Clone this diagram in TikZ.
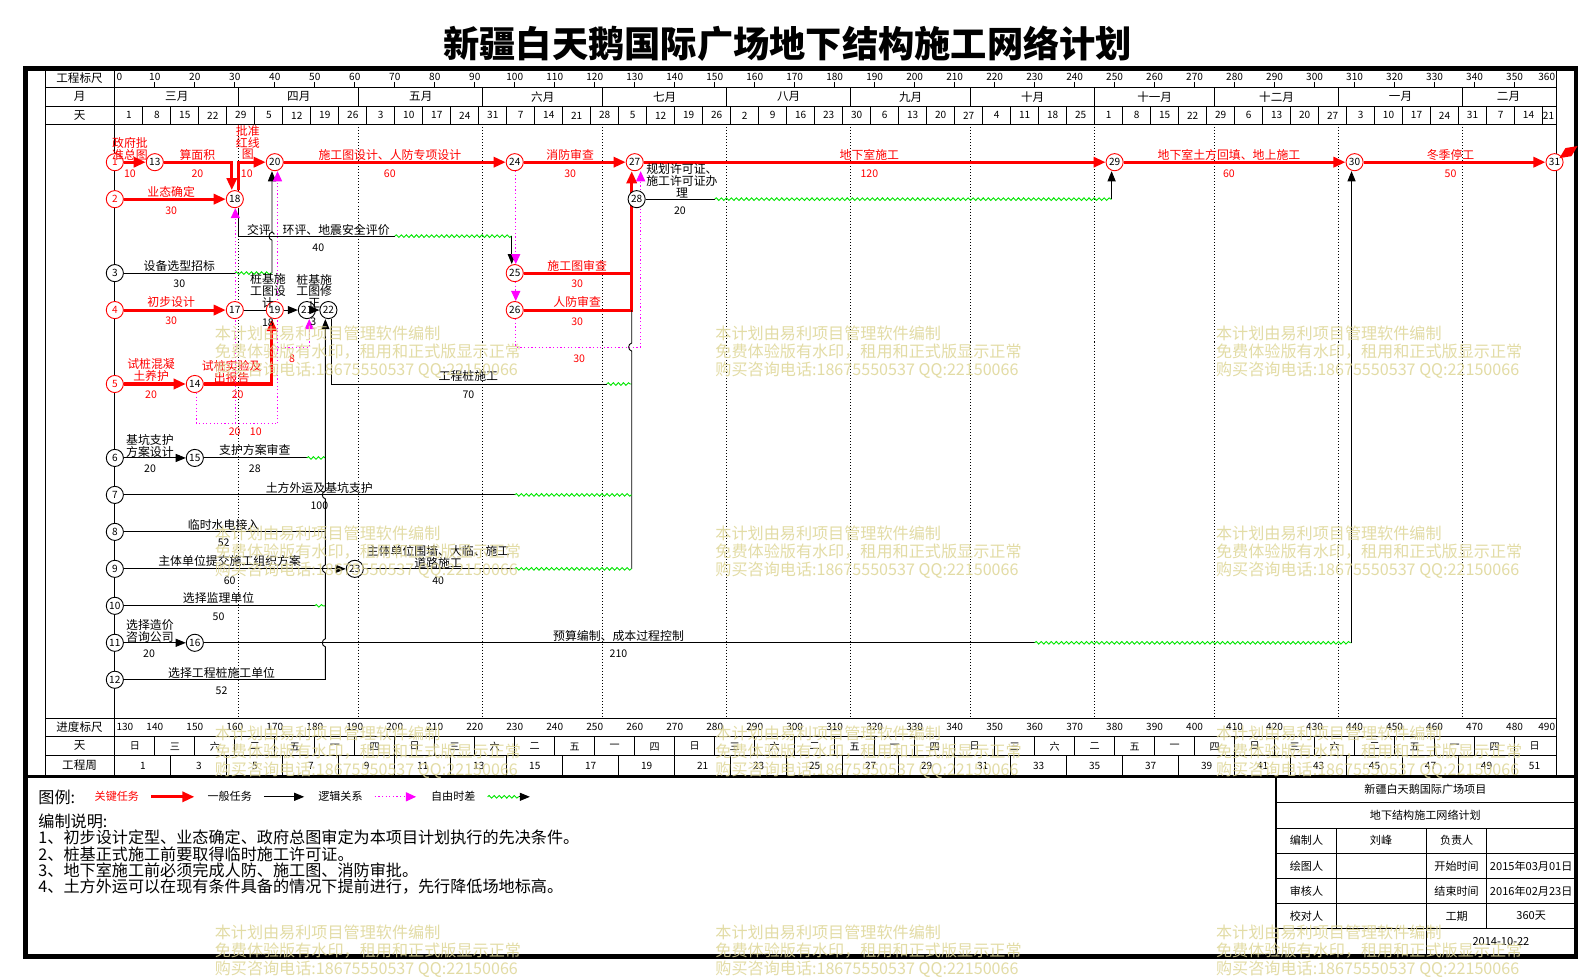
\documentclass[tikz,border=0pt]{standalone}
\usepackage{fontspec}
\setmainfont{Noto Sans CJK SC}
\usetikzlibrary{arrows.meta,decorations.pathmorphing}
\definecolor{cr}{RGB}{255,0,0}
\definecolor{cm}{RGB}{255,0,255}
\definecolor{cg}{RGB}{0,230,0}
\definecolor{wm}{RGB}{222,214,150}
\pgfdeclarelayer{bg}
\pgfsetlayers{bg,main}
\pgfmathdeclarefunction{dx}{1}{\pgfmathparse{114+3.97*(#1)}}
\begin{document}
\begin{tikzpicture}[x=1pt,y=-1pt,
 rn/.style={circle,draw=cr,line width=0.9pt,fill=white,minimum size=17pt,inner sep=0pt,font=\fontsize{10}{10}\selectfont,text=cr},
 rk/.style={rn,text=black},
 bn/.style={rn,draw=black,text=black},
 crit/.style={draw=cr,line width=3pt},
 critA/.style={crit,-{Triangle[length=12pt,width=10pt]}},
 gen/.style={draw=black,line width=0.9pt},
 genA/.style={gen,-{Triangle[length=10pt,width=8pt]}},
 lg/.style={draw=cm,line width=1pt,dash pattern=on 1.2pt off 2.4pt},
 lgA/.style={lg,-{Triangle[length=10pt,width=9pt]}},
 ffl/.style={draw=cg,line width=0.9pt,decorate,decoration={snake,amplitude=1.3pt,segment length=5pt}},
 tl/.style={font=\fontsize{11.8}{11.8}\selectfont,inner sep=0pt,align=center},
 rt/.style={tl,text=cr},
 dur/.style={font=\fontsize{10.5}{10.5}\selectfont,inner sep=0pt},
 rd/.style={dur,text=cr},
 hd/.style={font=\fontsize{10}{10}\selectfont,inner sep=0pt},
 hl/.style={font=\fontsize{11.5}{11.5}\selectfont,inner sep=0pt},
 tb/.style={font=\fontsize{11}{11}\selectfont,inner sep=0pt},
 wmk/.style={font=\fontsize{16}{18}\selectfont,text=wm,align=left,anchor=north west,inner sep=0pt},
 mth/.style={draw=black,line width=0.8pt,dash pattern=on 1pt off 2pt},
 thin/.style={draw=black,line width=0.8pt},
]
\useasboundingbox (0,0) rectangle (1567.5,969.9);

% ---------- nodes ----------
\node[rn] (n1) at (114,161) {1};
\node[rk] (n13) at (153.7,161) {13};
\node[rk] (n20) at (272.8,161) {20};
\node[rk] (n24) at (511,161) {24};
\node[rk] (n27) at (630.1,161) {27};
\node[rk] (n29) at (1106.5,161) {29};
\node[rk] (n30) at (1344.7,161) {30};
\node[rk] (n31) at (1543.2,161) {31};
\node[rn] (n2) at (114,197.7) {2};
\node[rk] (n18) at (233.1,197.7) {18};
\node[bn] (n28) at (632,197.7) {28};
\node[bn] (n3) at (114,271.1) {3};
\node[rk] (n25) at (511,271.1) {25};
\node[rn] (n4) at (114,307.8) {4};
\node[rk] (n17) at (233.1,307.8) {17};
\node[rk] (n19) at (272.8,307.8) {19};
\node[bn] (n21) at (304.6,307.8) {21};
\node[bn] (n22) at (326,307.8) {22};
\node[rk] (n26) at (511,307.8) {26};
\node[rn] (n5) at (114,381.2) {5};
\node[rk] (n14) at (193.4,381.2) {14};
\node[bn] (n6) at (114,454.6) {6};
\node[bn] (n15) at (193.4,454.6) {15};
\node[bn] (n7) at (114,491.3) {7};
\node[bn] (n8) at (114,528) {8};
\node[bn] (n9) at (114,564.7) {9};
\node[bn] (n23) at (352.2,564.7) {23};
\node[bn] (n10) at (114,601.4) {10};
\node[bn] (n11) at (114,638.1) {11};
\node[bn] (n16) at (193.4,638.1) {16};
\node[bn] (n12) at (114,674.8) {12};

\begin{pgfonlayer}{bg}
\fill[white] (0,0) rectangle (1579,977);
% month dotted lines in chart
\foreach \a in {31,61,92,122,153,184,214,245,275,306,337}{
  \draw[mth] ({dx(\a)},123) -- ({dx(\a)},713);
  \draw[thin] ({dx(\a)},87) -- ({dx(\a)},105.5);
}
% header & scale grid
\draw[thin] (45,68) -- (45,770);
\draw[thin] (114,68) -- (114,770);
\draw[thin] (1545,68) -- (1545,770);
\foreach \yy in {87,105.5,123,713,731.5,750}{\draw[thin] (45,\yy) -- (1545,\yy);}
\foreach \k in {1,...,35}{\draw[thin] ({dx(10*\k)},81) -- ({dx(10*\k)},87);}
\foreach \k in {1,...,51}{\draw[thin] ({dx(7*\k)},105.5) -- ({dx(7*\k)},123);}
\foreach \k in {1,...,35}{\draw[thin] ({dx(10*\k)},731.5) -- ({dx(10*\k)},750);}
\foreach \k in {1,...,25}{\draw[thin] ({dx(14*\k)},750) -- ({dx(14*\k)},770);}

% ---------- connectors ----------
\draw[critA] (n1) -- (n13);
\draw[critA] (n13) -- (230.1,161) -- ([xshift=-3pt]n18.north);
\draw[critA] (n2) -- (n18);
\draw[critA] ([xshift=4pt]n18.north) -- (237.1,161) -- (n20);
\draw[critA] (n20) -- (n24);
\draw[critA] (n24) -- (n27);
\draw[critA] (n27) -- (n29);
\draw[critA] (n29) -- (n30);
\draw[critA] (n30) -- (n31);
% row 3 -> 20
\draw[gen] (n3) -- (233.1,271.1);
\draw[ffl] (233.1,271.1) -- (270,271.1);
\draw[genA] (270,271.1) -- (270,238.4) .. controls (266,237.4) and (266,231.4) .. (270,230.4) -- ([xshift=-2.8pt]n20.south);
% 18 -> 25
\draw[gen] ([xshift=4pt]n18.south) -- (237.1,234.4) -- (391.9,234.4);
\draw[ffl] (391.9,234.4) -- (508,234.4);
\draw[genA] (508,234.4) -- ([xshift=-3pt]n25.north);
% logic 24 -> 25 -> 26
\draw[lgA] ([xshift=1pt]n24.south) -- ([xshift=1pt]n25.north);
\draw[lgA] ([xshift=1pt]n25.south) -- ([xshift=1pt]n26.north);
% 25, 26 -> 27
\draw[crit] (n25) -- (628.6,271.1);
\draw[crit] (n26) -- (628.6,307.8);
\draw[critA] (627.1,309.3) -- ([xshift=-3pt]n27.south);
% logic 26 -> 28 -> 27
\draw[lg] ([xshift=1pt]n26.south) -- (512,344.5) -- (636,344.5) -- ([xshift=4pt]n28.south);
\draw[lgA] ([xshift=4pt]n28.north) -- ([xshift=5.9pt]n27.south);
% 28 -> 29
\draw[gen] (n28) -- (709.5,197.7);
\draw[ffl] (709.5,197.7) -- (1103.5,197.7);
\draw[genA] (1103.5,197.7) -- ([xshift=-3pt]n29.south);
% 22 -> 27
\draw[gen] ([xshift=3pt]n22.south) -- (329,381.2) -- (602.3,381.2);
\draw[ffl] (602.3,381.2) -- (627.1,381.2);
\draw[gen] (627.1,564.7) -- (627.1,348.5) .. controls (623.1,347.5) and (623.1,341.5) .. (627.1,340.5) -- (627.1,307.8);
% row 5 -> 14 -> 19
\draw[critA] (n5) -- (n14);
\draw[critA] (n14) -- (270,381.2) -- ([xshift=-2.8pt]n19.south);
% logic from 14
\draw[lg] ([xshift=1.6pt]n14.south) -- (195,420) -- (275.5,420);
\draw[lgA] (233.6,420) -- ([xshift=0.5pt]n18.south);
\draw[lgA] (275.5,420) -- ([xshift=2.7pt]n20.south);
\draw[lgA] (275.5,344.5) -- (307,344.5) -- ([xshift=2.4pt]n21.south);
% row 4
\draw[critA] (n4) -- (n17);
\draw[gen] (n17) -- (n19);
\draw[genA] (n19) -- (n21);
% rows 8..14
\draw[genA] (n6) -- (n15);
\draw[gen] (n15) -- (304.6,454.6);
\draw[ffl] (304.6,454.6) -- (323,454.6);
\draw[gen] (n7) -- (511,491.3);
\draw[ffl] (511,491.3) -- (627.1,491.3);
\draw[gen] (n8) -- (323,528);
\draw[genA] (n9) -- (n23);
\draw[gen] (n23) -- (511,564.7);
\draw[ffl] (511,564.7) -- (627.1,564.7);
\draw[gen] (n10) -- (312.5,601.4);
\draw[ffl] (312.5,601.4) -- (323,601.4);
\draw[genA] (n11) -- (n16);
\draw[gen] (n16) -- (1027.1,638.1);
\draw[ffl] (1027.1,638.1) -- (1341.7,638.1);
\draw[genA] (1341.7,638.1) -- ([xshift=-3pt]n30.south);
\draw[gen] (n12) -- (323,674.8);
\draw[genA] (323,674.8) -- (323,642.1) .. controls (319,641.1) and (319,635.1) .. (323,634.1)
  -- (323,568.7) .. controls (319,567.7) and (319,561.7) .. (323,560.7)
  -- (323,495.3) .. controls (319,494.3) and (319,488.3) .. (323,487.3)
  -- ([xshift=-3pt]n22.south);

% outer frame
\draw[line width=4.5pt] (25.5,68) rectangle (1564.5,949.5);
\draw[line width=3pt] (25.5,770.5) -- (1564.5,770.5);
% title block
\draw[line width=2pt] (1267,770.5) -- (1267,949.5);
\foreach \yy in {797,822,847,872,897,922}{\draw[thin] (1267,\yy) -- (1564.5,\yy);}
\foreach \xx in {1327,1476}{\draw[thin] (\xx,822) -- (\xx,922);}
\draw[thin] (1416,822) -- (1416,949.5);
\end{pgfonlayer}

\draw[genA] (n21) -- (n22);
\fill[cr] (1548,157) -- (1554,147) -- (1566,145) -- (1560,155) -- cycle;

% ---------- task labels ----------
\node[rt] (a1) at (129,147.5) {政府批\\准总图};
\node[rd] (b1) at (129,172) {10};
\node[rt] (a2) at (196,154) {算面积};
\node[rd] (b2) at (196,172) {20};
\node[rt] (a3) at (246,141.5) {批准\\红线\\图};
\node[rd] (b3) at (245,172) {10};
\node[rt] (a4) at (170,191) {业态确定};
\node[rd] (b4) at (170,209) {30};
\node[rt] (a5) at (387,154) {施工图设计、人防专项设计};
\node[rd] (b5) at (387,172) {60};
\node[rt] (a6) at (566,154) {消防审查};
\node[rd] (b6) at (566,172) {30};
\node[rt] (a7) at (863,154) {地下室施工};
\node[rd] (b7) at (863,172) {120};
\node[rt] (a8) at (1220,154) {地下室土方回填、地上施工};
\node[rd] (b8) at (1220,172) {60};
\node[rt] (a9) at (1440,154) {冬季停工};
\node[rd] (b9) at (1440,172) {50};
\node[rt] (a10) at (573,264) {施工图审查};
\node[rd] (b10) at (573,282) {30};
\node[rt] (a11) at (573,300) {人防审查};
\node[rd] (b11) at (573,319) {30};
\node[rd] (b12) at (575,356) {30};
\node[rt] (a13) at (170,300) {初步设计};
\node[rd] (b13) at (170,318) {30};
\node[rt] (a14) at (150,367.5) {试桩混凝\\土养护};
\node[rd] (b14) at (150,392) {20};
\node[rt] (a15) at (230,369.5) {试桩实验及\\出报告};
\node[rd] (b15) at (236,392) {20};
\node[rd] (b16) at (233,429) {20};
\node[rd] (b17) at (254,429) {10};
\node[rd] (b18) at (290,356) {8};

\node[tl] (c1) at (316,228) {交评、环评、地震安全评价};
\node[dur] (d1) at (316,246) {40};
\node[tl] (c2) at (178,264) {设备选型招标};
\node[dur] (d2) at (178,282) {30};
\node[tl] (c3) at (677,179.5) {规划许可证、\\施工许可证办\\理};
\node[dur] (d3) at (675,209) {20};
\node[tl] (c4) at (266,289) {桩基施\\工图设\\计};
\node[dur] (d4) at (266,320) {18};
\node[tl] (c5) at (312,289) {桩基施\\工图修\\正};
\node[dur] (d5) at (311,319) {3};
\node[tl] (c6) at (465,373) {工程桩施工};
\node[dur] (d6) at (465,392) {70};
\node[tl,anchor=west,align=left] (c7) at (125,442.5) {基坑支护\\方案设计};
\node[dur] (d7) at (149,465) {20};
\node[tl] (c8) at (253,447) {支护方案审查};
\node[dur] (d8) at (253,465) {28};
\node[tl] (c9) at (317,484) {土方外运及基坑支护};
\node[dur] (d9) at (317,502) {100};
\node[tl] (c10) at (222,521) {临时水电接入};
\node[dur] (d10) at (222,539) {52};
\node[tl] (c11) at (228,557) {主体单位提交施工组织方案};
\node[dur] (d11) at (228,576) {60};
\node[tl] (c12) at (435,552.5) {主体单位围墙、大临、施工\\道路施工};
\node[dur] (d12) at (435,576) {40};
\node[tl] (c13) at (217,594) {选择监理单位};
\node[dur] (d13) at (217,612) {50};
\node[tl,anchor=west,align=left] (c14) at (125,626) {选择造价\\咨询公司};
\node[dur] (d14) at (148,649) {20};
\node[tl] (c15) at (614,631) {预算编制、成本过程控制};
\node[dur] (d15) at (614,649) {210};
\node[tl] (c16) at (220,668) {选择工程桩施工单位};
\node[dur] (d16) at (220,686) {52};

% ---------- header texts ----------
\node[hl] (h1) at (79,77.5) {工程标尺};
\node[hl] (h2) at (79,96) {月};
\node[hl] (h3) at (79,114.5) {天};
\node[hl] (h4) at (79,722) {进度标尺};
\node[hl] (h5) at (79,740.5) {天};
\node[hl] (h6) at (79,760) {工程周};
\node[hd,anchor=west] (s0) at (115.5,76) {0};
\foreach \k in {1,...,35}{\node[hd] (s\k) at ({dx(10*\k)},76) {\the\numexpr10*\k\relax};}
\node[hd,anchor=east] (s36) at (1544,76) {360};
\foreach \a/\b/\m [count=\i] in {0/31/三月,31/61/四月,61/92/五月,92/122/六月,122/153/七月,153/184/八月,184/214/九月,214/245/十月,245/275/十一月,275/306/十二月,306/337/一月,337/360/二月}{
  \node[hl] (m\i) at ({dx((\a+\b)/2)},96) {\m};}
\foreach \lab [count=\k from 0] in {1,8,15,22,29,5,12,19,26,3,10,17,24,31,7,14,21,28,5,12,19,26,2,9,16,23,30,6,13,20,27,4,11,18,25,1,8,15,22,29,6,13,20,27,3,10,17,24,31,7,14,21}{
  \node[hd] (w\k) at ({dx(min(7*\k+3.5,358.5))},114.5) {\lab};}
\node[hd,anchor=west] (p0) at (115.5,722) {130};
\foreach \k in {1,...,35}{\node[hd] (p\k) at ({dx(10*\k)},722) {\the\numexpr130+10*\k\relax};}
\node[hd,anchor=east] (p36) at (1544,722) {490};
\foreach \w [count=\k from 0] in {日,三,六,二,五,一,四,日,三,六,二,五,一,四,日,三,六,二,五,一,四,日,三,六,二,五,一,四,日,三,六,二,五,一,四,日}{
  \node[hd] (q\k) at ({dx(10*\k+5)},741) {\w};}
\foreach \k in {0,...,25}{\node[hd] (g\k) at ({dx(min(14*\k+7,355))},760) {\the\numexpr2*\k+1\relax};}

% ---------- legend ----------
\node[font=\fontsize{16}{16}\selectfont,anchor=west,inner sep=0pt] (lgt) at (38,792) {图例:};
\node[tb,text=cr] (lg1) at (116,790) {关键任务};
\coordinate (la1) at (150,791); \coordinate (la2) at (193,791);
\draw[critA] (la1) -- (la2);
\node[tb] (lg2) at (228,790) {一般任务};
\coordinate (lb1) at (262,791); \coordinate (lb2) at (302,791);
\draw[genA] (lb1) -- (lb2);
\node[tb] (lg3) at (338,790) {逻辑关系};
\coordinate (lc1) at (372,791); \coordinate (lc2) at (413,791);
\draw[lgA] (lc1) -- (lc2);
\node[tb] (lg4) at (450,790) {自由时差};
\coordinate (ld1) at (484,791); \coordinate (ld2) at (515,791); \coordinate (ld3) at (526,791);
\draw[ffl] (ld1) -- (ld2);
\draw[genA] (ld2) -- (ld3);
\node[font=\fontsize{16}{16}\selectfont,anchor=north west,align=left,inner sep=0pt] (notes) at (38,808)
 {编制说明:\\1、初步设计定型、业态确定、政府总图审定为本项目计划执行的先决条件。\\2、桩基正式施工前要取得临时施工许可证。\\3、地下室施工前必须完成人防、施工图、消防审批。\\4、土方外运可以在现有条件具备的情况下提前进行，先行降低场地标高。};

% ---------- title block ----------
\node[tb] (tb1) at (1415,784) {新疆白天鹅国际广场项目};
\node[tb] (tb2) at (1415,809.5) {地下结构施工网络计划};
\node[tb] (tb3) at (1297,834.5) {编制人};
\node[tb] (tb4) at (1371,834.5) {刘峰};
\node[tb] (tb5) at (1446,834.5) {负责人};
\node[tb] (tb6) at (1297,859.5) {绘图人};
\node[tb] (tb7) at (1446,859.5) {开始时间};
\node[tb] (tb8) at (1520,859.5) {2015年03月01日};
\node[tb] (tb9) at (1297,884.5) {审核人};
\node[tb] (tb10) at (1446,884.5) {结束时间};
\node[tb] (tb11) at (1520,884.5) {2016年02月23日};
\node[tb] (tb12) at (1297,909.5) {校对人};
\node[tb] (tb13) at (1446,909.5) {工期};
\node[tb] (tb14) at (1520,909.5) {360天};
\node[tb] (tb15) at (1490,935) {2014-10-22};

% ---------- title ----------
\node[font=\fontsize{36}{36}\selectfont\bfseries,inner sep=0pt] (title) at (782,43) {新疆白天鹅国际广场地下结构施工网络计划};

% ---------- watermarks ----------
\foreach \wx in {213,710,1207}{\foreach \wy in {323,522,720,918}{
  \node[wmk,text opacity=0.85] (wm\wx\wy) at (\wx,\wy) {本计划由易利项目管理软件编制\\免费体验版有水印，租用和正式版显示正常\\购买咨询电话:18675550537 QQ:22150066};}}
\end{tikzpicture}
\end{document}
